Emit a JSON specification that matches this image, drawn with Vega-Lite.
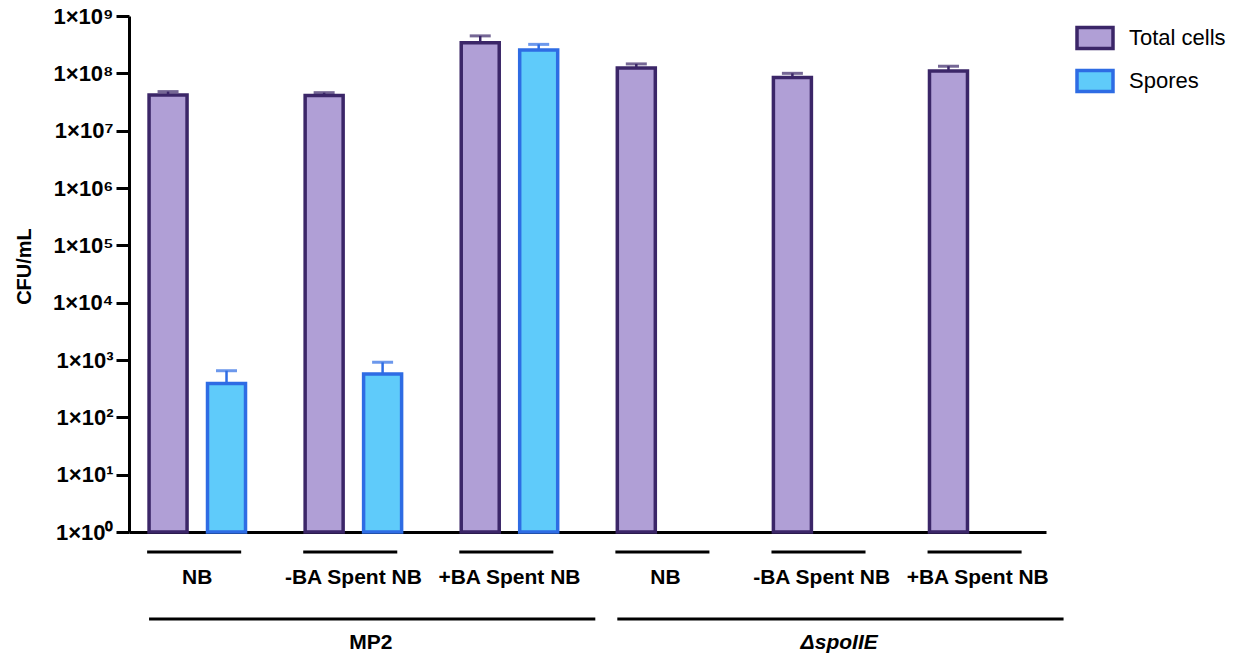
{
  "$schema": "https://vega.github.io/schema/vega-lite/v6.json",
  "background": "white",
  "padding": {"left": 14, "top": 5, "right": 5, "bottom": 0},
  "config": {
    "view": {"stroke": null},
    "font": "Liberation Sans"
  },
  "datasets": {
    "counts": [
      {"strain": "MP2", "condition": "NB", "group": "MP2 NB", "series": "Total cells", "value": 42000000, "upper": 48000000},
      {"strain": "MP2", "condition": "NB", "group": "MP2 NB", "series": "Spores", "value": 390, "upper": 650},
      {"strain": "MP2", "condition": "-BA Spent NB", "group": "MP2 -BA Spent NB", "series": "Total cells", "value": 41000000, "upper": 46000000},
      {"strain": "MP2", "condition": "-BA Spent NB", "group": "MP2 -BA Spent NB", "series": "Spores", "value": 570, "upper": 910},
      {"strain": "MP2", "condition": "+BA Spent NB", "group": "MP2 +BA Spent NB", "series": "Total cells", "value": 340000000, "upper": 450000000},
      {"strain": "MP2", "condition": "+BA Spent NB", "group": "MP2 +BA Spent NB", "series": "Spores", "value": 255000000, "upper": 320000000},
      {"strain": "ΔspoIIE", "condition": "NB", "group": "ΔspoIIE NB", "series": "Total cells", "value": 124000000, "upper": 146000000},
      {"strain": "ΔspoIIE", "condition": "-BA Spent NB", "group": "ΔspoIIE -BA Spent NB", "series": "Total cells", "value": 85000000, "upper": 100000000},
      {"strain": "ΔspoIIE", "condition": "+BA Spent NB", "group": "ΔspoIIE +BA Spent NB", "series": "Total cells", "value": 110000000, "upper": 133000000}
    ],
    "groups": [
      {"strain": "MP2", "condition": "NB", "group": "MP2 NB"},
      {"strain": "MP2", "condition": "-BA Spent NB", "group": "MP2 -BA Spent NB"},
      {"strain": "MP2", "condition": "+BA Spent NB", "group": "MP2 +BA Spent NB"},
      {"strain": "ΔspoIIE", "condition": "NB", "group": "ΔspoIIE NB"},
      {"strain": "ΔspoIIE", "condition": "-BA Spent NB", "group": "ΔspoIIE -BA Spent NB"},
      {"strain": "ΔspoIIE", "condition": "+BA Spent NB", "group": "ΔspoIIE +BA Spent NB"}
    ],
    "strains": [
      {"strain": "MP2", "first": "MP2 NB", "last": "MP2 +BA Spent NB", "italic": false},
      {"strain": "ΔspoIIE", "first": "ΔspoIIE NB", "last": "ΔspoIIE +BA Spent NB", "italic": true}
    ]
  },
  "spacing": 0,
  "resolve": {"scale": {"x": "shared"}},
  "vconcat": [
    {
      "width": 917,
      "height": 516,
      "data": {"name": "counts"},
      "encoding": {
        "x": {
          "field": "group",
          "type": "nominal",
          "scale": {
            "domain": ["MP2 NB", "MP2 -BA Spent NB", "MP2 +BA Spent NB", "ΔspoIIE NB", "ΔspoIIE -BA Spent NB", "ΔspoIIE +BA Spent NB"],
            "paddingInner": 0.382,
            "paddingOuter": 0.1285
          },
          "axis": {"labels": false, "ticks": false, "title": null, "domainColor": "black", "domainWidth": 3}
        },
        "xOffset": {
          "field": "series",
          "type": "nominal",
          "scale": {"domain": ["Total cells", "Spores"], "paddingInner": 0.35, "paddingOuter": 0}
        }
      },
      "layer": [
        {
          "mark": {"type": "bar", "strokeWidth": 3.5},
          "encoding": {
            "y": {
              "field": "value",
              "type": "quantitative",
              "stack": null,
              "scale": {"type": "log", "domain": [1, 1000000000]},
              "axis": {
                "title": "CFU/mL",
                "values": [1, 10, 100, 1000, 10000, 100000, 1000000, 10000000, 100000000, 1000000000],
                "labelExpr": "'1×10' + ['⁰','¹','²','³','⁴','⁵','⁶','⁷','⁸','⁹'][round(log(datum.value) / LN10)]",
                "grid": false,
                "domainColor": "black",
                "domainWidth": 3,
                "tickColor": "black",
                "tickWidth": 3,
                "tickSize": 13,
                "labelFontSize": 22,
                "labelFontWeight": "bold",
                "labelColor": "black",
                "labelPadding": 3,
                "labelFlush": false,
                "labelOverlap": false,
                "titleFontSize": 20,
                "titleFontWeight": "bold",
                "titleColor": "black",
                "titlePadding": 18,
                "titleY": 250
              }
            },
            "y2": {"datum": 1},
            "fill": {
              "field": "series",
              "type": "nominal",
              "scale": {"domain": ["Total cells", "Spores"], "range": ["#b09fd6", "#5fcbfa"]},
              "legend": {
                "title": null,
                "orient": "none",
                "legendX": 946,
                "legendY": 2,
                "labelFontSize": 22,
                "labelColor": "black",
                "labelOffset": 14,
                "rowPadding": 5,
                "symbolType": "M-1,-0.58H1V0.58H-1Z",
                "symbolSize": 1296,
                "symbolStrokeWidth": 3.5
              }
            },
            "stroke": {
              "field": "series",
              "type": "nominal",
              "scale": {"domain": ["Total cells", "Spores"], "range": ["#3b2668", "#2e6ce4"]},
              "legend": {
                "title": null,
                "orient": "none",
                "legendX": 946,
                "legendY": 2,
                "labelFontSize": 22,
                "labelColor": "black",
                "labelOffset": 14,
                "rowPadding": 5,
                "symbolType": "M-1,-0.58H1V0.58H-1Z",
                "symbolSize": 1296,
                "symbolStrokeWidth": 3.5
              }
            }
          }
        },
        {
          "mark": {"type": "rule", "strokeWidth": 2.5},
          "encoding": {
            "y": {"field": "value", "type": "quantitative"},
            "y2": {"field": "upper"},
            "color": {
              "field": "series",
              "type": "nominal",
              "scale": {"domain": ["Total cells", "Spores"], "range": ["#3b2668", "#2e6ce4"]},
              "legend": null
            }
          }
        },
        {
          "mark": {"type": "tick", "thickness": 3, "size": 21, "orient": "horizontal"},
          "encoding": {
            "y": {"field": "upper", "type": "quantitative"},
            "color": {
              "field": "series",
              "type": "nominal",
              "scale": {"domain": ["Total cells", "Spores"], "range": ["#3b2668", "#2e6ce4"]},
              "legend": null
            }
          }
        }
      ]
    },
    {
      "width": 917,
      "height": 85,
      "layer": [
        {
          "data": {"name": "groups"},
          "mark": {"type": "rule", "strokeWidth": 3, "color": "black"},
          "encoding": {
            "x": {
              "field": "group",
              "type": "nominal",
              "bandPosition": -0.02,
              "scale": {
                "domain": ["MP2 NB", "MP2 -BA Spent NB", "MP2 +BA Spent NB", "ΔspoIIE NB", "ΔspoIIE -BA Spent NB", "ΔspoIIE +BA Spent NB"],
                "paddingInner": 0.382,
                "paddingOuter": 0.1285
              },
              "axis": null
            },
            "x2": {"field": "group", "bandPosition": 0.955},
            "y": {"datum": "treatment", "type": "nominal", "scale": {"type": "point", "domain": ["treatment", "strain"], "padding": 0.134}, "axis": null}
          }
        },
        {
          "data": {"name": "groups"},
          "mark": {"type": "text", "fontSize": 21, "fontWeight": "bold", "color": "black", "dy": 26, "baseline": "middle"},
          "encoding": {
            "x": {"field": "group", "type": "nominal", "axis": null},
            "y": {"datum": "treatment", "type": "nominal"},
            "text": {"field": "condition"}
          }
        },
        {
          "data": {"name": "strains"},
          "mark": {"type": "rule", "strokeWidth": 3, "color": "black"},
          "encoding": {
            "x": {"field": "first", "type": "nominal", "bandPosition": 0, "axis": null},
            "x2": {"field": "last", "bandPosition": 1.39},
            "y": {"datum": "strain", "type": "nominal"}
          }
        },
        {
          "data": {"name": "strains"},
          "transform": [{"filter": "!datum.italic"}],
          "mark": {"type": "text", "fontSize": 21, "fontWeight": "bold", "color": "black", "dy": 24, "baseline": "middle"},
          "encoding": {
            "x": {"field": "first", "type": "nominal", "bandPosition": 2.3, "axis": null},
            "y": {"datum": "strain", "type": "nominal"},
            "text": {"field": "strain"}
          }
        },
        {
          "data": {"name": "strains"},
          "transform": [{"filter": "datum.italic"}],
          "mark": {"type": "text", "fontSize": 21, "fontWeight": "bold", "fontStyle": "italic", "color": "black", "dy": 24, "baseline": "middle"},
          "encoding": {
            "x": {"field": "first", "type": "nominal", "bandPosition": 2.3, "axis": null},
            "y": {"datum": "strain", "type": "nominal"},
            "text": {"field": "strain"}
          }
        }
      ]
    }
  ]
}
